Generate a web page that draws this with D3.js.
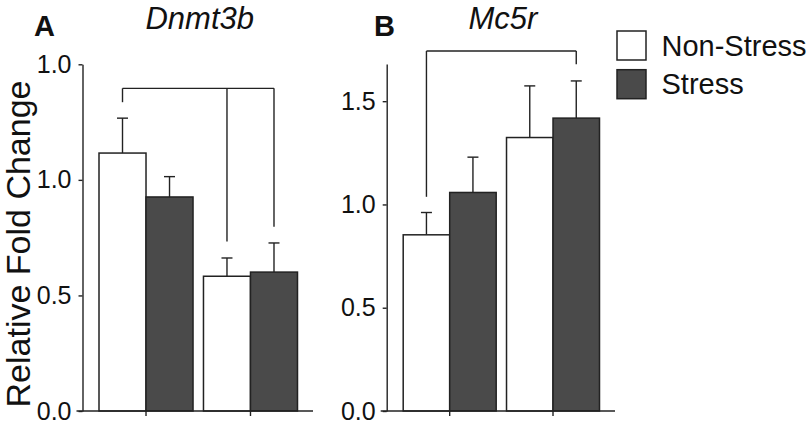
<!DOCTYPE html>
<html>
<head>
<meta charset="utf-8">
<script src="https://cdn.jsdelivr.net/npm/d3@7"></script>
<style>
  body { margin: 0; background: #fff; }
  text { font-family: "Liberation Sans", Arial, Helvetica, sans-serif; fill: #111; }
</style>
</head>
<body>
<div id="chart"></div>
<script>
let width = 810;
let height = 425;

// data
let series = ["Non-Stress", "Stress"];
let groups = ["g1", "g2"];

let dnmtNon = [1.116, 0.583];
let dnmtNonErr = [0.151, 0.079];
let dnmtStress = [0.926, 0.601];
let dnmtStressErr = [0.088, 0.126];

let mcNon = [0.853, 1.324];
let mcNonErr = [0.108, 0.250];
let mcStress = [1.058, 1.418];
let mcStressErr = [0.171, 0.180];

let tickValsA = [0, 0.5, 1.0, 1.5];
let tickLabelsA = ["0.0", "0.5", "1.0", "1.0"];
let tickValsB = [0, 0.5, 1.0, 1.5];
let tickLabelsB = ["0.0", "0.5", "1.0", "1.5"];
let yMaxA = 1.5;
let yMaxB = 1.68;

// significance brackets: bar index (0..3), y of bar, y where the leg ends
let bracketA = { y: 1.396, bars: [0, 2, 3], ends: [1.336, 0.733, 0.797] };
let bracketB = { y: 1.743, bars: [0, 3], ends: [1.037, 1.679] };

let colors = { "Non-Stress": "#ffffff", "Stress": "#4a4a4a" };
let ink = "#222";
let baseY = 411;

let svg = d3.select("#chart").append("svg")
  .attr("width", width).attr("height", height);

function toRows(non, nonErr, str, strErr) {
  let rows = [];
  groups.forEach((g, i) => {
    rows.push({ group: g, series: "Non-Stress", value: non[i], err: nonErr[i] });
    rows.push({ group: g, series: "Stress", value: str[i], err: strErr[i] });
  });
  return rows;
}

function drawPanel(cfg) {
  let g = svg.append("g");
  let y = d3.scaleLinear().domain([0, cfg.yMax]).range([baseY, cfg.top]);
  let x0 = d3.scaleBand().domain(groups)
    .range([cfg.left + 16.5, cfg.right - 15.5]).paddingInner(0.1);
  let x1 = d3.scaleBand().domain(series).range([0, x0.bandwidth()]);
  let cx = d => x0(d.group) + x1(d.series) + x1.bandwidth() / 2;

  // error bars (drawn first, bars cover the lower half)
  let eb = g.selectAll(".err").data(cfg.rows).join("g").attr("class", "err")
    .attr("stroke", ink).attr("stroke-width", 1.4);
  eb.append("line")
    .attr("x1", cx).attr("x2", cx)
    .attr("y1", d => y(d.value)).attr("y2", d => y(d.value + d.err));
  eb.append("line")
    .attr("x1", d => cx(d) - 5.5).attr("x2", d => cx(d) + 5.5)
    .attr("y1", d => y(d.value + d.err)).attr("y2", d => y(d.value + d.err));

  g.selectAll(".bar").data(cfg.rows).join("rect").attr("class", "bar")
    .attr("x", d => x0(d.group) + x1(d.series))
    .attr("width", x1.bandwidth())
    .attr("y", d => y(d.value))
    .attr("height", d => y(0) - y(d.value))
    .attr("fill", d => colors[d.series])
    .attr("stroke", ink).attr("stroke-width", 1.5);

  // y axis
  let ya = g.append("g").attr("transform", `translate(${cfg.left},0)`)
    .call(d3.axisLeft(y).tickValues(cfg.ticks)
      .tickFormat((d, i) => cfg.labels[i])
      .tickSizeInner(4).tickSizeOuter(0).tickPadding(7));
  ya.selectAll("path, line").attr("stroke", ink).attr("stroke-width", 1.4);
  ya.selectAll("text").attr("font-size", 25).attr("fill", "#111")
    .attr("font-family", "Liberation Sans, Arial, sans-serif");

  // x axis: baseline and group ticks
  g.append("line")
    .attr("x1", cfg.left - 6).attr("x2", cfg.right)
    .attr("y1", y(0)).attr("y2", y(0))
    .attr("stroke", ink).attr("stroke-width", 1.4);
  let xa = g.append("g").attr("transform", `translate(0,${y(0)})`)
    .call(d3.axisBottom(x0).tickFormat("").tickSizeInner(5).tickSizeOuter(0));
  xa.select(".domain").remove();
  xa.selectAll("line").attr("stroke", ink).attr("stroke-width", 1.4);

  // bracket
  let barX = i => cx(cfg.rows[i]);
  let br = cfg.bracket;
  let bx = br.bars.map(barX);
  g.append("line")
    .attr("x1", d3.min(bx)).attr("x2", d3.max(bx))
    .attr("y1", y(br.y)).attr("y2", y(br.y))
    .attr("stroke", ink).attr("stroke-width", 1.4);
  g.selectAll(".leg").data(br.bars).join("line").attr("class", "leg")
    .attr("x1", d => barX(d)).attr("x2", d => barX(d))
    .attr("y1", y(br.y)).attr("y2", (d, i) => y(br.ends[i]))
    .attr("stroke", ink).attr("stroke-width", 1.4);

  // titles
  g.append("text").attr("x", cfg.letterX).attr("y", 36)
    .attr("font-size", 29).attr("font-weight", "bold").text(cfg.letter);
  g.append("text").attr("x", (cfg.left + cfg.right) / 2 + 2).attr("y", 29)
    .attr("text-anchor", "middle").attr("font-size", 31)
    .attr("font-style", "italic").text(cfg.title);
}

drawPanel({
  rows: toRows(dnmtNon, dnmtNonErr, dnmtStress, dnmtStressErr),
  left: 82.5, right: 313, top: 64.3, yMax: yMaxA,
  ticks: tickValsA, labels: tickLabelsA, bracket: bracketA,
  letter: "A", letterX: 34, title: "Dnmt3b"
});

drawPanel({
  rows: toRows(mcNon, mcNonErr, mcStress, mcStressErr),
  left: 386.7, right: 615, top: 64, yMax: yMaxB,
  ticks: tickValsB, labels: tickLabelsB, bracket: bracketB,
  letter: "B", letterX: 374, title: "Mc5r"
});

// y label
svg.append("text")
  .attr("transform", "translate(30,244) rotate(-90)")
  .attr("text-anchor", "middle").attr("font-size", 34)
  .text("Relative Fold Change");

// legend
let legend = svg.append("g").attr("transform", "translate(617,31)");
let li = legend.selectAll("g").data(series).join("g")
  .attr("transform", (d, i) => `translate(0,${i * 38.7})`);
li.append("rect").attr("width", 29).attr("height", 29)
  .attr("fill", d => colors[d]).attr("stroke", ink).attr("stroke-width", 1.5);
li.append("text").attr("x", 44.5).attr("y", 24.5).attr("font-size", 29).text(d => d);
</script>
</body>
</html>
